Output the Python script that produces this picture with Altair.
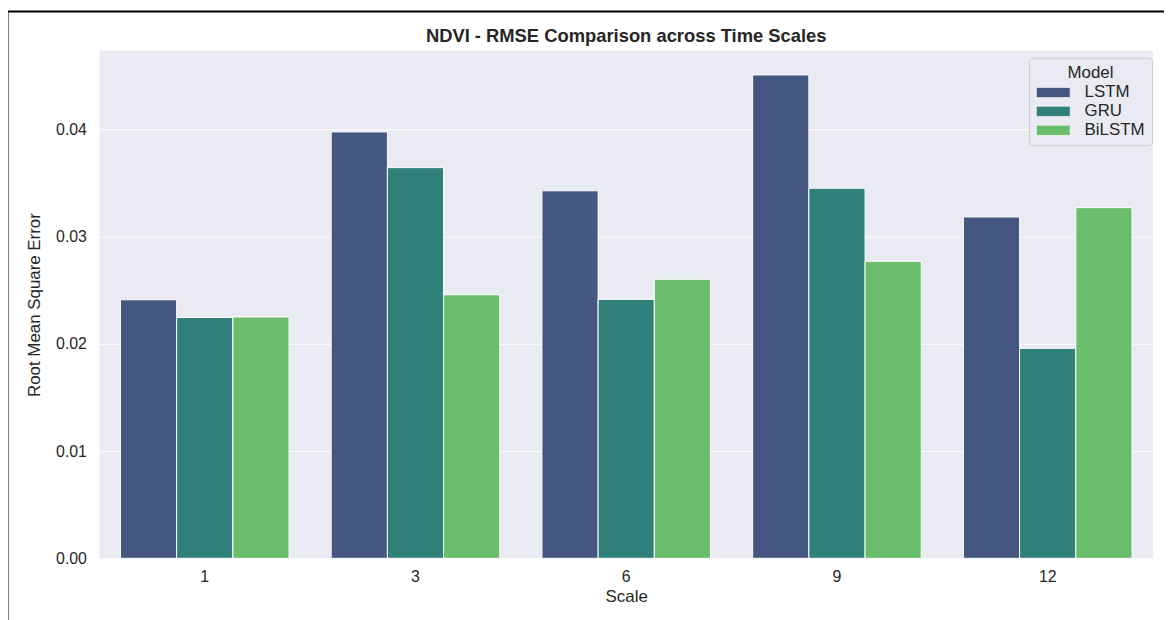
import altair as alt
import pandas as pd

scales = ["1", "3", "6", "9", "12"]
models = ["LSTM", "GRU", "BiLSTM"]
lstm = [0.0241, 0.03975, 0.03426, 0.04506, 0.03182]
gru = [0.02245, 0.03642, 0.02414, 0.0345, 0.01957]
bilstm = [0.0225, 0.02457, 0.02602, 0.02769, 0.03269]
colors = ["#455680", "#2E8079", "#6ABD6B"]
y_ticks = [0.0, 0.01, 0.02, 0.03, 0.04]
chart_title = "NDVI - RMSE Comparison across Time Scales"

rows = []
for m, vals in zip(models, [lstm, gru, bilstm]):
    for s, v in zip(scales, vals):
        rows.append({"Scale": s, "Model": m, "RMSE": v})
df = pd.DataFrame(rows)

FONT = "Liberation Sans"
W, H = 1061, 511

bars = alt.Chart(df).mark_bar(stroke="white", strokeWidth=1).encode(
    x=alt.X("Scale:N", sort=scales,
            scale=alt.Scale(paddingInner=0.2, paddingOuter=0.1),
            axis=alt.Axis(title="Scale", labelAngle=0, ticks=False, domain=False,
                          labelPadding=10, titlePadding=4, grid=False)),
    xOffset=alt.XOffset("Model:N", sort=models, scale=alt.Scale(paddingInner=0, paddingOuter=0)),
    y=alt.Y("RMSE:Q", scale=alt.Scale(domain=[0, 0.04731], nice=False),
            axis=alt.Axis(title="Root Mean Square Error", values=y_ticks, format=".2f",
                          ticks=False, domain=False, labelPadding=13, titlePadding=12,
                          grid=True, gridColor="white", gridWidth=1)),
    color=alt.Color("Model:N", sort=models,
                    scale=alt.Scale(domain=models, range=colors),
                    legend=alt.Legend(title="Model", orient="none", legendX=936, legendY=7,
                                      symbolType="M-1,-0.6H3V0.6H-1Z",
                                      symbolSize=289, symbolStrokeWidth=0.6,
                                      symbolStrokeColor="white",
                                      labelOffset=31, rowPadding=2, titlePadding=2,
                                      titleAnchor="middle", titleAlign="center",
                                      padding=7, fillColor="#EAEAF2",
                                      strokeColor="#CCCCCC", cornerRadius=4)),
)

frame = alt.Chart(pd.DataFrame({"a": [0]})).mark_rect(
    fill=None, stroke="black", strokeWidth=2
).encode(
    x=alt.value(-92.5), x2=alt.value(1200), y=alt.value(-39.5), y2=alt.value(700)
)

title = alt.Chart(pd.DataFrame({"t": [chart_title]})).mark_text(
    font=FONT, fontSize=18.5, fontWeight="bold", color="#262626", baseline="middle", align="center"
).encode(
    text="t:N", x=alt.value(W / 2), y=alt.value(-15)
)

chart = alt.layer(bars, frame, title).properties(
    width=W, height=H,
    autosize=alt.AutoSizeParams(type="none"),
    padding={"left": 92, "top": 41, "right": 11, "bottom": 60},
).configure_view(
    fill="#EAEAF2", stroke=None
).configure_axis(
    labelFont=FONT, titleFont=FONT, labelFontSize=16, titleFontSize=17,
    labelColor="#262626", titleColor="#262626", titleFontWeight="normal"
).configure_legend(
    labelFont=FONT, titleFont=FONT, labelFontSize=17, titleFontSize=17,
    labelColor="#262626", titleColor="#262626", titleFontWeight="normal"
)

chart.save("out.html", embed_options={"renderer": "svg", "actions": False})
